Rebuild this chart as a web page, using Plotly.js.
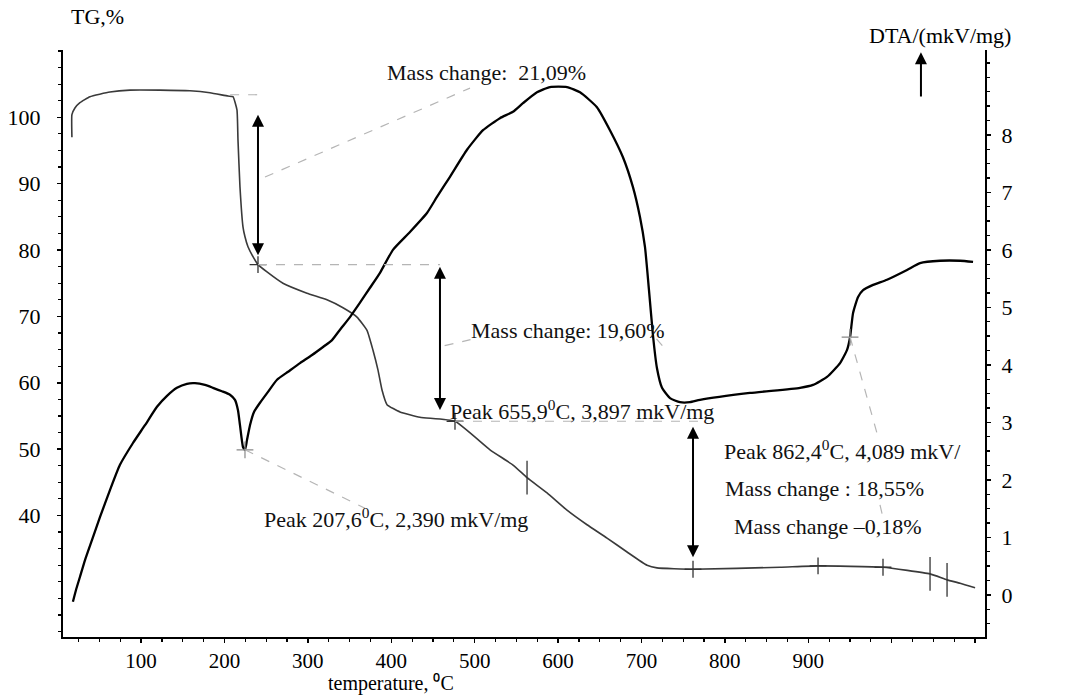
<!DOCTYPE html>
<html>
<head>
<meta charset="utf-8">
<script src="https://cdn.plot.ly/plotly-3.0.1.min.js"></script>
<style>html,body{margin:0;padding:0;background:#fff;}#chart{width:1089px;height:698px;}</style>
</head>
<body>
<div id="chart"></div>
<script>
// ---- DTA curve (temperature, °C  /  DTA, mkV/mg) ----
const dtaTemperature = [18.3,21.9,26.7,32.7,41.1,50.7,62.7,74.7,90.3,104.7,119.1,131.1,143.0,155.0,164.6,176.6,186.2,197.0,206.6,212.6,216.2,218.6,222.2,224.6,227.0,230.6,235.4,242.6,252.2,263.0,276.3,290.6,305.0,318.2,329.0,338.5,350.5,362.5,374.5,386.5,402.0,422.4,442.8,454.8,470.4,490.8,510.0,530.3,545.9,557.9,574.7,590.3,610.7,626.3,646.6,662.2,677.8,689.8,698.2,704.2,709.0,713.8,718.6,724.6,734.2,746.2,758.2,770.2,830.1,890.1,905.7,922.5,938.1,946.5,950.1,953.7,959.7,965.7,977.7,994.4,1018.4,1034.0,1058.0,1082.0,1097.6];
const dtaValues = [-0.12,0.08,0.31,0.60,0.95,1.35,1.82,2.26,2.64,2.95,3.27,3.46,3.60,3.67,3.68,3.65,3.60,3.54,3.48,3.39,3.21,2.95,2.57,2.52,2.69,2.95,3.18,3.34,3.53,3.74,3.88,4.03,4.17,4.31,4.43,4.61,4.83,5.08,5.34,5.60,6.00,6.31,6.64,6.92,7.27,7.74,8.08,8.29,8.40,8.55,8.74,8.83,8.83,8.74,8.48,8.08,7.61,7.09,6.57,6.05,5.30,4.51,3.94,3.60,3.42,3.35,3.35,3.39,3.51,3.60,3.65,3.79,4.03,4.26,4.48,4.90,5.18,5.30,5.39,5.48,5.65,5.77,5.81,5.81,5.79];

// ---- TG curve (temperature, °C  /  mass, %) ----
const tgTemperature = [17.1,17.1,20.7,26.7,38.7,62.7,86.7,122.7,158.6,182.6,204.2,210.2,215.0,216.2,218.6,222.2,224.6,228.2,234.2,240.2,251.0,270.1,298.9,322.9,342.1,358.9,370.9,378.1,384.1,388.9,394.9,410.5,434.4,476.4,518.4,546.0,562.8,586.8,610.7,634.7,658.7,682.7,706.7,718.6,761.8,866.1,911.7,989.6,1046.0,1066.4,1082.0,1100.0];
const tgValues = [97.0,100.4,101.4,102.2,103.1,103.8,104.1,104.1,104.0,103.7,103.2,103.1,101.1,96.6,89.5,83.5,82.0,80.5,79.0,77.8,76.7,75.0,73.5,72.5,71.3,69.9,67.9,64.9,61.9,58.9,56.7,55.6,54.8,54.2,49.9,47.6,45.7,43.4,40.8,38.6,36.6,34.5,32.5,32.1,31.9,32.2,32.4,32.2,31.2,30.3,29.8,29.1];

// ---- marks on the curves ----
const tgCrossT = [240.2,476.4,761.8,911.7,989.6];
const tgCrossV = [77.8,54.2,31.9,32.4,32.2];
const tgTickT = [562.8,1046.0,1066.4];
const tgTickV = [45.7,31.2,30.3];
const dtaCrossT = [224.6,950.1];
const dtaCrossV = [2.52,4.48];

// ---- axis tick labels ----
const xTickValues = [100,200,300,400,500,600,700,800,900,1000,1100];
const xTickLabels = ['100','200','300','400','500','600','700','800','900','',''];
const tgTickValues = [40,50,60,70,80,90,100];
const dtaTickValues = [0,1,2,3,4,5,6,7,8];

// ---- texts on the plot (anchor temperature, anchor TG level) ----
const noteTexts = ['Mass change:  21,09%','Mass change: 19,60%','Peak 655,9<sup>0</sup>C, 3,897 mkV/mg','Peak 862,4<sup>0</sup>C, 4,089 mkV/','Mass change : 18,55%','Mass change \u20130,18%','Peak 207,6<sup>0</sup>C, 2,390 mkV/mg'];
const noteT = [392.6,493.0,468.0,796.6,797.8,808.5,244.9];
const noteV = [106.8,67.9,55.9,49.9,44.1,38.3,39.6];

// ---- vertical double arrows (temperature, from TG, to TG) ----
const arrowT = [240.2,458.4,761.8];
const arrowFrom = [100.6,77.7,53.6];
const arrowTo = [79.2,55.9,33.7];
// single "exo up" arrow
const upArrowT = 1035.1, upArrowFrom = 102.9, upArrowTo = 109.8;

// ---- grey leader lines [T0, V0, T1, V1] in TG units ----
const leaders = [
  [206.8,103.4,240.2,103.4],
  [248.6,91.0,494.4,104.4],
  [240.2,77.8,458.4,77.8],
  [476.4,54.2,770.0,54.2],
  [224.6,49.9,368.5,41.1],
  [950.1,66.9,982.4,52.4],
  [986.0,41.6,991.0,38.9],
  [464.0,65.6,495.0,66.5],
  [718.0,66.6,725.0,65.6]
];

const FONT = 'Liberation Serif, Times New Roman, serif';

const traces = [
  {x: tgTemperature, y: tgValues, type:'scatter', mode:'lines', line:{color:'#3a3a3a', width:1.6, shape:'spline', smoothing:0.4}, yaxis:'y', hoverinfo:'skip'},
  {x: dtaTemperature, y: dtaValues, type:'scatter', mode:'lines', line:{color:'#000', width:2.3, shape:'spline', smoothing:0.5}, yaxis:'y2', hoverinfo:'skip'},
  {x: tgCrossT, y: tgCrossV, type:'scatter', mode:'markers', marker:{symbol:'cross-thin', size:12, line:{color:'#333', width:1.3}}, yaxis:'y', hoverinfo:'skip'},
  {x: tgTickT, y: tgTickV, type:'scatter', mode:'markers', marker:{symbol:'line-ns', size:24, line:{color:'#333', width:1.3}}, yaxis:'y', hoverinfo:'skip'},
  {x: dtaCrossT, y: dtaCrossV, type:'scatter', mode:'markers', marker:{symbol:'cross-thin', size:12, line:{color:'#888', width:1.2}}, yaxis:'y2', hoverinfo:'skip'}
];

const annotations = [];
noteTexts.forEach((t,i)=>{
  annotations.push({x: noteT[i], y: noteV[i], xref:'x', yref:'y', text:t, showarrow:false, xanchor:'left', yanchor:'middle', font:{family:FONT, size:22, color:'#111'}});
});
arrowT.forEach((t,i)=>{
  annotations.push({x:t, y:arrowTo[i], ax:t, ay:arrowFrom[i], xref:'x', yref:'y', axref:'x', ayref:'y', text:'', showarrow:true, arrowhead:2, arrowside:'end+start', arrowsize:1.2, arrowwidth:2, arrowcolor:'#000'});
});
annotations.push({x:upArrowT, y:upArrowTo, ax:upArrowT, ay:upArrowFrom, xref:'x', yref:'y', axref:'x', ayref:'y', text:'', showarrow:true, arrowhead:2, arrowsize:1.2, arrowwidth:2, arrowcolor:'#000'});
annotations.push({x:0.0065, y:1.082, xref:'paper', yref:'paper', text:'TG,%', showarrow:false, font:{family:FONT, size:22, color:'#000'}});
annotations.push({x:1.030, y:1.050, xref:'paper', yref:'paper', text:'DTA/(mkV/mg)', showarrow:false, font:{family:FONT, size:22, color:'#000'}});
annotations.push({x:0.3557, y:-0.1005, xref:'paper', yref:'paper', yanchor:'bottom', borderpad:0, text:'temperature, \u2070C', showarrow:false, font:{family:FONT, size:20, color:'#000'}});

const shapes = leaders.map(s=>({type:'line', xref:'x', yref:'y', x0:s[0], y0:s[1], x1:s[2], y1:s[3], line:{color:'#b5b5b5', width:1.2, dash:'dash'}}));

const layout = {
  width:1089, height:698,
  margin:{l:63, r:104, t:50, b:61},
  paper_bgcolor:'#fff', plot_bgcolor:'#fff',
  showlegend:false,
  font:{family:FONT, size:22, color:'#000'},
  xaxis:{range:[6.4,1111.9], tickmode:'array', tickvals:xTickValues, ticktext:xTickLabels, ticks:'outside', ticklen:4, tickwidth:1.5, tickcolor:'#000', showline:true, linecolor:'#000', linewidth:2, showgrid:false, zeroline:false, tickfont:{family:FONT, size:21}, minor:{dtick:25, tick0:0, ticks:'outside', ticklen:3, tickwidth:1.2, tickcolor:'#000', showgrid:false}},
  yaxis:{range:[21.69,110.14], tickmode:'array', tickvals:tgTickValues, ticks:'outside', ticklen:4, tickwidth:1.5, tickcolor:'#000', showline:true, linecolor:'#000', linewidth:2, showgrid:false, zeroline:false, ticklabelstandoff:12, tickfont:{family:FONT, size:22}, minor:{dtick:2.5, tick0:0, ticks:'outside', ticklen:3, tickwidth:1.2, tickcolor:'#000', showgrid:false}},
  yaxis2:{range:[-0.734,9.475], overlaying:'y', side:'right', tickmode:'array', tickvals:dtaTickValues, ticks:'outside', ticklen:4, tickwidth:1.5, tickcolor:'#000', showline:true, linecolor:'#000', linewidth:2, showgrid:false, zeroline:false, ticklabelstandoff:6, tickfont:{family:FONT, size:22}, minor:{dtick:0.25, tick0:0, ticks:'outside', ticklen:3, tickwidth:1.2, tickcolor:'#000', showgrid:false}},
  annotations: annotations,
  shapes: shapes
};

Plotly.newPlot('chart', traces, layout, {staticPlot:true, displayModeBar:false});
</script>
</body>
</html>
